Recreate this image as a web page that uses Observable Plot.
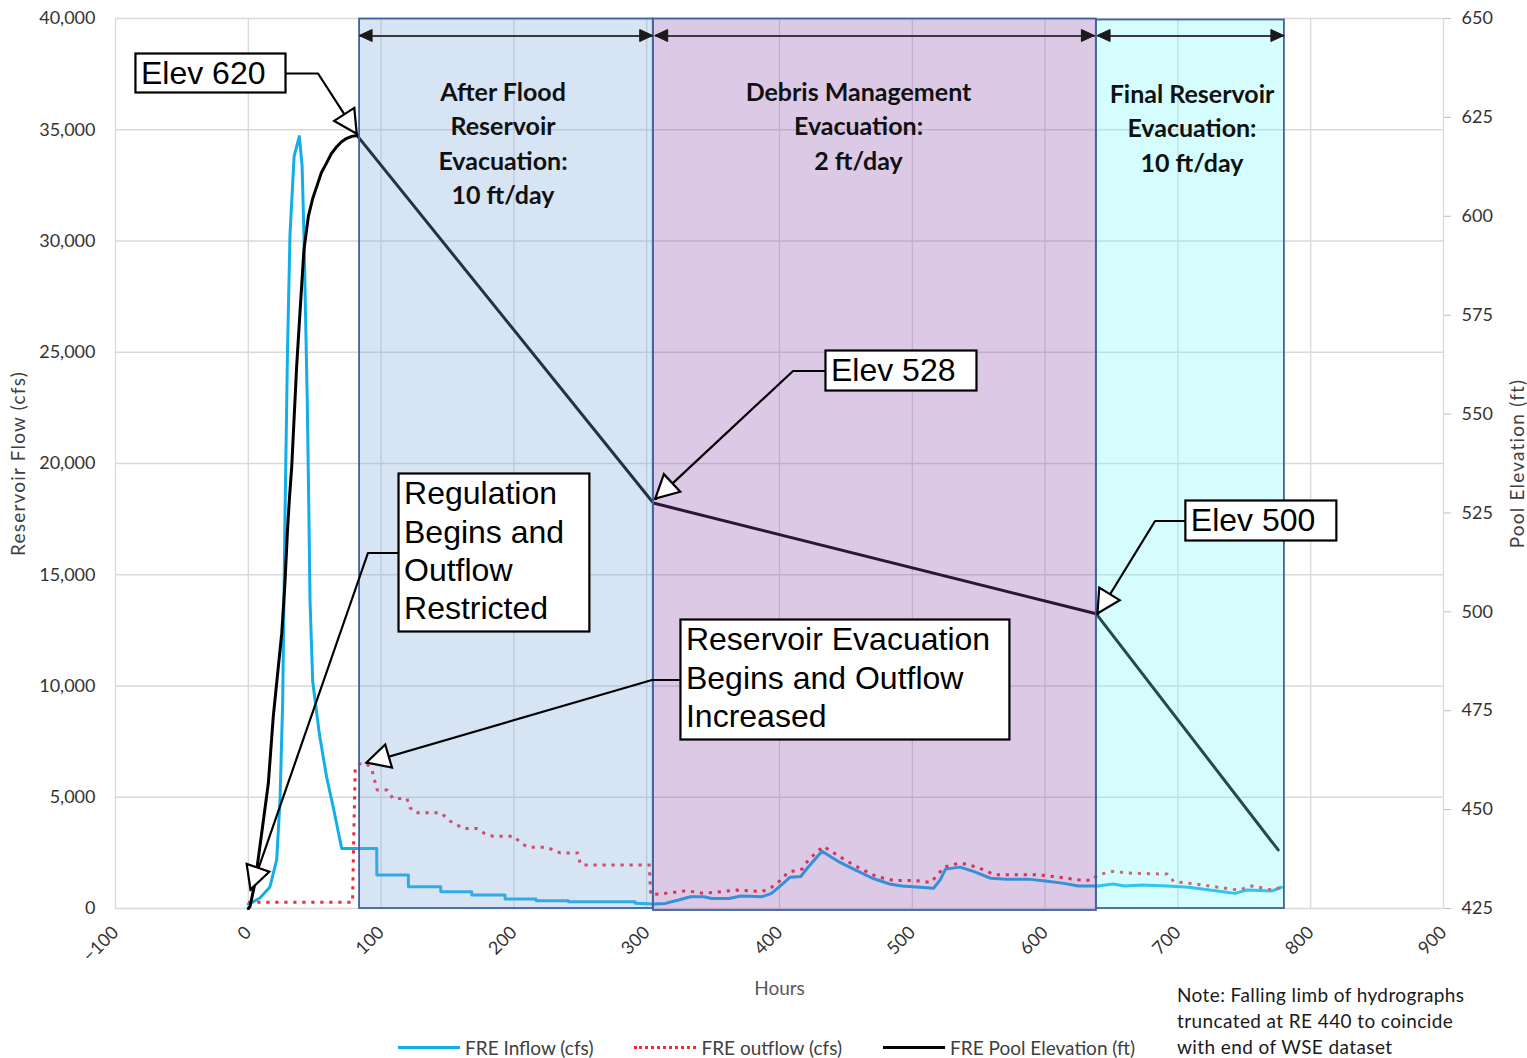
<!DOCTYPE html>
<html>
<head>
<meta charset="utf-8">
<script src="https://cdn.jsdelivr.net/npm/d3@7"></script>
<script src="https://cdn.jsdelivr.net/npm/@observablehq/plot@0.6"></script>
<style>
  body { margin: 0; background: #fff; }
  #wrap { position: relative; width: 1527px; height: 1058px; font-family: Lato, "Open Sans", sans-serif; overflow: hidden; }
  #chart svg { display: block; }
  #legend { position: absolute; left: 398px; top: 1036px; height: 22px; display: flex; gap: 41px; align-items: center; font-size: 19px; color: #404040; }
  .item { display: flex; align-items: center; gap: 5px; white-space: nowrap; }
  .swatch { width: 62px; height: 0; }
  #note { position: absolute; left: 1177px; top: 982px; font-size: 19px; letter-spacing: 0.4px; line-height: 26px; color: #1a1a1a; white-space: nowrap; }
</style>
</head>
<body>
<div id="wrap">
  <div id="chart"></div>
  <div id="legend"></div>
  <div id="note"></div>
</div>
<script>
// ---------------- DATA ----------------
// hours, inflow (cfs)
const inflow = [
  [0,200],[3.5,300],[8.8,470],[16.3,970],[21.4,2200],[23.9,4900],[25.9,9300],[27.6,17500],[29.5,25000],[31.4,30300],
  [34.5,33800],[38.4,34700],[40.5,33400],[41.9,30300],[44.4,22800],[45.5,18300],[46.5,13800],[48.5,10200],[53.5,7850],
  [59,5900],[64,4540],[70.3,2700],[96.7,2700],[96.8,1510],[120.5,1510],[120.6,980],[144.9,980],[145,755],[168.2,755],
  [168.3,607],[193.3,607],[193.4,427],[216.6,427],[216.7,350],[241,350],[241.1,306],[291.2,306],[291.3,234],[306,200],
  [314,230],[324,380],[333,530],[343,530],[349,450],[362,450],[371,560],[387,530],[394,680],[403,1140],[408,1410],
  [416,1440],[421,1820],[432,2575],[444,2120],[457,1740],[470,1360],[483,1100],[492,1015],[498,985],[516,910],
  [521,1290],[525,1770],[536,1860],[546,1670],[559,1360],[571,1320],[587,1320],[600,1240],[613,1140],[625,1015],
  [640,1015],[651,1100],[660,1015],[673,1060],[692,1015],[708,955],[724,830],[743,680],[752,830],[771,790],[778,955]
];
// hours, outflow (cfs)
const outflow = [
  [0,280],[78.5,280],[79.5,3500],[80.5,6300],[84,6500],[89,6520],[93,6250],[97,5330],[104.5,5330],[109,4940],
  [119.5,4940],[121.6,4540],[126,4300],[145,4300],[151.9,3930],[162,3600],[172,3600],[178,3370],[184,3250],[200,3250],
  [206,2900],[212,2750],[225,2750],[235,2500],[248,2500],[250,2000],[252,1950],[302,1950],[303,620],[314,680],
  [330,800],[343,680],[368,830],[387,760],[394,955],[402,1320],[406,1620],[417,1770],[422,2200],[433,2800],[448,2230],
  [460,1820],[473,1440],[486,1260],[502,1260],[514,1170],[524,1860],[536,2050],[549,1860],[562,1515],[575,1515],
  [594,1515],[606,1440],[625,1290],[635,1260],[640,1515],[651,1670],[663,1590],[692,1545],[697,1210],[708,1140],
  [727,985],[746,830],[756,1015],[771,830],[778,955]
];
// hours, pool elevation (ft)
const poolElevation = [
  [0,425],[1.3,425.5],[5,431.4],[10.1,444.1],[15.1,456.7],[18.8,473.5],[22.6,486.1],[25.2,494.6],[27.6,507.3],
  [29.4,519.9],[30.9,528.3],[32.7,536.7],[36.4,562],[39.5,578.8],[41.9,591.5],[45.2,599.9],[48.5,604.5],[51.5,607.5],
  [55,611],[59,613.5],[62.5,615.8],[66.6,617.6],[70,618.8],[74.1,619.7],[78,620.2],[82,620.4],[305,527.5],[638.5,499.5],[775.5,439.8]
];
const xTicks = [-100,0,100,200,300,400,500,600,700,800,900];
const flowTicks = [0,5000,10000,15000,20000,25000,30000,35000,40000];
const elevTicks = [425,450,475,500,525,550,575,600,625,650];
const elevDomain = [425,650];
const flowDomain = [0,40000];

// evacuation phases
const phases = [
  {start:83.8,  end:305,   top:39977, bottom:0,   fill:"#76a5d7", label:"After Flood\nReservoir\nEvacuation:\n10 ft/day", labelX:191.8, labelTop:37400},
  {start:305,   end:638.6, top:39977, bottom:-90, fill:"#8a4bac", label:"Debris Management\nEvacuation:\n2 ft/day",        labelX:459.5, labelTop:37400},
  {start:638.6, end:780.2, top:39933, bottom:0,   fill:"#76f8fc", label:"Final Reservoir\nEvacuation:\n10 ft/day",         labelX:710.6, labelTop:37310}
];
const spanArrowLevel = 39213;
const spans = [[83.8,304.9],[306.4,637.5],[639.5,780.2]];

// callouts
const callouts = [
  {text:"Elev 620", x1:-84.6, x2:28.4, top:38404, bottom:36652, startX:28.4, startY:37528, elbowX:52.5, tipX:82, tipY:34800},
  {text:"Elev 528", x1:435.0, x2:548.7, top:25056, bottom:23258, startX:435.0, startY:24157, elbowX:410.2, tipX:306.8, tipY:18400},
  {text:"Elev 500", x1:706.0, x2:819.7, top:18315, bottom:16517, startX:706.0, startY:17416, elbowX:682.8, tipX:639.8, tipY:13236},
  {text:"Regulation\nBegins and\nOutflow\nRestricted", x1:113.5, x2:257.2, top:19528, bottom:12427, startX:113.5, startY:15978, elbowX:90.1, tipX:2.0, tipY:831},
  {text:"Reservoir Evacuation\nBegins and Outflow\nIncreased", x1:325.8, x2:573.5, top:12966, bottom:7573, startX:325.8, startY:10270, elbowX:304.0, tipX:89.4, tipY:6539}
];

const axisTitles = ["Reservoir Flow (cfs)", "Pool Elevation (ft)", "Hours"];
const seriesNames = ["FRE Inflow (cfs)", "FRE outflow (cfs)", "FRE Pool Elevation (ft)"];
const seriesColors = ["#12aeea", "#f5283a", "#000000"];
const noteLines = ["Note: Falling limb of hydrographs", "truncated at RE 440 to coincide", "with end of WSE dataset"];

// ---------------- HELPERS ----------------
const elevToFlow = e => (e - elevDomain[0]) / (elevDomain[1] - elevDomain[0]) * (flowDomain[1] - flowDomain[0]) + flowDomain[0];
const flowToElev = f => (f - flowDomain[0]) / (flowDomain[1] - flowDomain[0]) * (elevDomain[1] - elevDomain[0]) + elevDomain[0];

const inflowData = inflow.map(([h, v]) => ({h, v}));
const outflowData = outflow.map(([h, v]) => ({h, v}));
const elevData = poolElevation.map(([h, e]) => ({h, v: elevToFlow(e)}));

const leaderData = callouts.flatMap((c, i) => [
  {id: i, h: c.startX, v: c.startY},
  {id: i, h: c.elbowX, v: c.startY},
  {id: i, h: c.tipX, v: c.tipY}
]);
const spanData = spans.map(([a, b]) => ({a, b}));

function headsMark(list, opts) {
  return (index, scales) => {
    const g = d3.create("svg:g");
    for (const a of list) {
      const tx = scales.x(a.tx), ty = scales.y(a.ty);
      const fx = scales.x(a.fx), fy = scales.y(a.fy);
      const ang = Math.atan2(ty - fy, tx - fx);
      const bx = tx - opts.len * Math.cos(ang), by = ty - opts.len * Math.sin(ang);
      const px = -Math.sin(ang) * opts.half, py = Math.cos(ang) * opts.half;
      g.append("polygon")
        .attr("points", `${tx},${ty} ${bx + px},${by + py} ${bx - px},${by - py}`)
        .attr("fill", opts.fill)
        .attr("stroke", opts.stroke)
        .attr("stroke-width", opts.sw)
        .attr("stroke-linejoin", "miter");
    }
    return g.node();
  };
}
const calloutHeads = callouts.map(c => ({tx: c.tipX, ty: c.tipY, fx: c.elbowX, fy: c.startY}));
const spanHeads = spans.flatMap(([a, b]) => [
  {tx: a, ty: spanArrowLevel, fx: b, fy: spanArrowLevel},
  {tx: b, ty: spanArrowLevel, fx: a, fy: spanArrowLevel}
]);

const grid = {stroke: "#d9d9d9", strokeOpacity: 1, strokeWidth: 1.3};

const chart = Plot.plot({
  width: 1527,
  height: 1058,
  marginLeft: 115,
  marginRight: 84,
  marginTop: 18,
  marginBottom: 150,
  style: {fontFamily: "Lato, 'Open Sans', sans-serif", color: "#333", background: "#fff"},
  x: {domain: [-100, 900]},
  y: {domain: flowDomain},
  color: {type: "identity"},
  marks: [
    Plot.gridY(flowTicks, grid),
    Plot.gridX(xTicks, grid),
    Plot.axisY(flowTicks, {anchor: "left", tickSize: 0, tickPadding: 20, tickFormat: d3.format(","), fontSize: 18, label: null}),
    Plot.axisY(elevTicks.map(elevToFlow), {anchor: "right", tickSize: 7, tickPadding: 11, stroke: "#bfbfbf", tickFormat: d => Math.round(flowToElev(d)), fontSize: 18, label: null}),
    Plot.axisX(xTicks, {tickRotate: -45, tickSize: 0, tickPadding: 21, fontSize: 18, label: null}),
    Plot.text([axisTitles[2]], {frameAnchor: "bottom", dy: 80, lineAnchor: "middle", fontSize: 19, fill: "#595959"}),
    Plot.text([axisTitles[0]], {frameAnchor: "left", textAnchor: "middle", dx: -97, rotate: -90, fontSize: 19, fill: "#404040"}),
    Plot.text([axisTitles[1]], {frameAnchor: "right", textAnchor: "middle", dx: 74, rotate: -90, fontSize: 19, fill: "#404040"}),

    Plot.line(inflowData, {x: "h", y: "v", stroke: seriesColors[0], strokeWidth: 3, curve: "linear"}),
    Plot.line(outflowData, {x: "h", y: "v", stroke: seriesColors[1], strokeWidth: 3, strokeDasharray: "3.2,5.8", strokeLinecap: "butt"}),
    Plot.line(elevData, {x: "h", y: "v", stroke: seriesColors[2], strokeWidth: 3, curve: "linear"}),

    Plot.rect(phases, {x1: "start", x2: "end", y1: "bottom", y2: "top", fill: "fill", fillOpacity: 0.3}),
    Plot.rect(phases, {x1: "start", x2: "end", y1: "bottom", y2: "top", fill: "none", stroke: "#3f62a0", strokeWidth: 1.8}),
    Plot.link(spanData, {x1: "a", x2: "b", y1: spanArrowLevel, y2: spanArrowLevel, stroke: "#3a3a3a", strokeWidth: 2}),
    headsMark(spanHeads, {len: 13, half: 6, fill: "#1a1a1a", stroke: "#1a1a1a", sw: 1}),
    Plot.text(phases, {x: "labelX", y: "labelTop", text: "label", lineAnchor: "top", fontSize: 25, fontWeight: "bold", lineHeight: 1.38, fill: "#111", fontFamily: "Lato, sans-serif"}),

    Plot.line(leaderData, {x: "h", y: "v", z: "id", stroke: "#000", strokeWidth: 2.2}),
    headsMark(calloutHeads, {len: 23, half: 12, fill: "#fff", stroke: "#000", sw: 2.2}),
    Plot.rect(callouts, {x1: "x1", x2: "x2", y1: "bottom", y2: "top", fill: "#fff", stroke: "#000", strokeWidth: 2.2}),
    Plot.text(callouts, {x: "x1", y: "top", text: "text", textAnchor: "start", lineAnchor: "top", dx: 5, dy: 3, fontSize: 32, lineHeight: 1.2, fill: "#000", fontFamily: "'Liberation Sans', Arial, sans-serif"})
  ]
});
// widen the two vertical axis titles slightly (letter spacing)
d3.select(chart).selectAll("text")
  .filter(function () { return this.textContent === axisTitles[0] || this.textContent === axisTitles[1]; })
  .attr("letter-spacing", "1.2px");
document.getElementById("chart").append(chart);

// legend (HTML, below the plot frame)
const legend = document.getElementById("legend");
seriesNames.forEach((name, i) => {
  const item = document.createElement("div");
  item.className = "item";
  const sw = document.createElement("div");
  sw.className = "swatch";
  sw.style.borderTop = i === 1 ? `3px dotted ${seriesColors[i]}` : `3px solid ${seriesColors[i]}`;
  const t = document.createElement("span");
  t.textContent = name;
  item.append(sw, t);
  legend.append(item);
});
document.getElementById("note").innerHTML = noteLines.map(s => `<div>${s}</div>`).join("");
</script>
</body>
</html>
